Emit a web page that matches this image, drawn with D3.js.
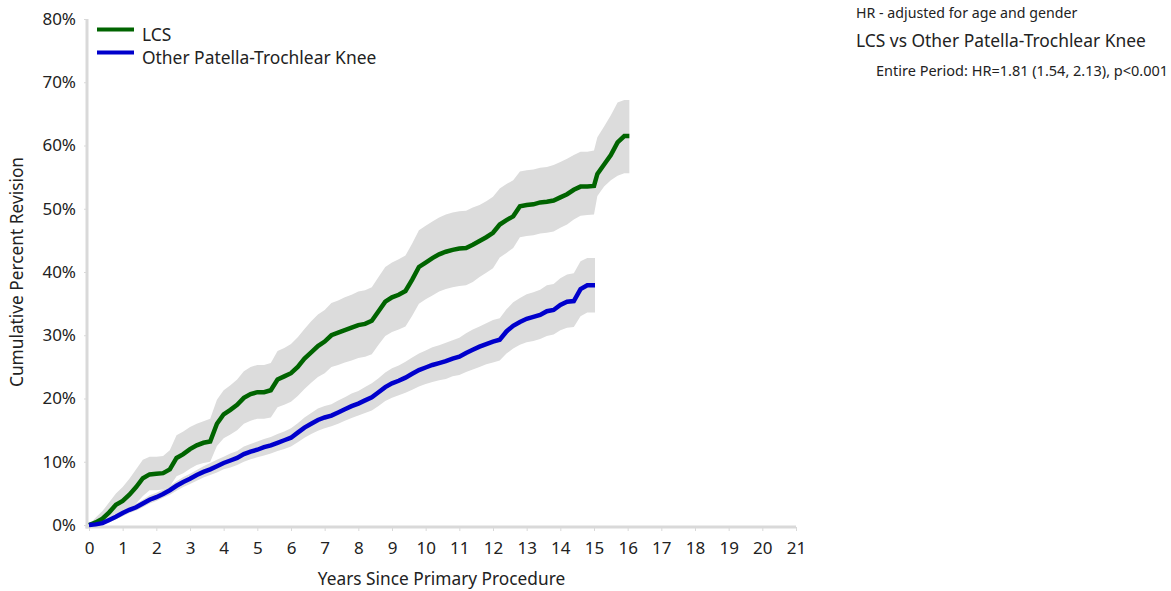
<!DOCTYPE html>
<html><head><meta charset="utf-8">
<script src="https://cdn.jsdelivr.net/npm/d3@7"></script>
<style>body{margin:0;background:#fff}svg{display:block}text{font-family:"Noto Sans",sans-serif;fill:#222}</style>
</head><body><svg id="c" width="1171" height="591"></svg>
<script>
const xTicks = d3.range(0, 22);
const yTicks = [0, 10, 20, 30, 40, 50, 60, 70, 80];
const seriesNames = ["LCS", "Other Patella-Trochlear Knee"];

// LCS: time, estimate, lower CI, upper CI (%)
const lcsTime = [0,0.2,0.4,0.6,0.8,1.0,1.2,1.4,1.6,1.8,2.0,2.2,2.4,2.6,2.8,3.0,3.2,3.4,3.6,3.8,4.0,4.2,4.4,4.6,4.8,5.0,5.2,5.4,5.6,5.8,6.0,6.2,6.4,6.6,6.8,7.0,7.2,7.4,7.6,7.8,8.0,8.2,8.4,8.6,8.8,9.0,9.2,9.4,9.6,9.8,10.0,10.2,10.4,10.6,10.8,11.0,11.2,11.4,11.6,11.8,12.0,12.2,12.4,12.6,12.8,13.0,13.2,13.4,13.6,13.8,14.0,14.2,14.4,14.6,14.8,15.0,15.1,15.3,15.5,15.7,15.9,16.05];
const lcsEst = [0,0.4,1.0,2.0,3.2,3.8,4.8,6.0,7.4,8.0,8.1,8.2,8.8,10.6,11.2,12.0,12.6,13.0,13.2,16.0,17.5,18.2,19.0,20.1,20.7,21.0,21.0,21.3,23.0,23.5,24.0,25.0,26.3,27.3,28.3,29.0,30.0,30.4,30.8,31.2,31.6,31.8,32.3,33.8,35.3,36.0,36.4,37.0,38.8,40.8,41.5,42.2,42.8,43.2,43.5,43.7,43.8,44.3,44.9,45.5,46.2,47.5,48.2,48.8,50.4,50.6,50.7,51.0,51.1,51.3,51.8,52.3,53.0,53.5,53.5,53.6,55.5,57.0,58.5,60.5,61.5,61.5];
const lcsLo = [0,0,0.2,0.6,1.3,1.8,2.5,3.4,4.6,5.5,5.5,5.6,6.1,7.7,8.2,8.9,9.5,9.8,10.0,12.5,13.7,14.3,15.0,16.0,16.5,16.8,16.8,17.0,18.6,19.0,19.5,20.4,21.5,22.5,23.4,24.0,25.0,25.3,25.7,26.0,26.4,26.6,27.0,28.5,29.9,30.5,30.9,31.4,33.1,35.0,35.7,36.3,36.9,37.3,37.6,37.8,37.9,38.4,39.2,39.9,40.6,42.3,43.0,43.8,45.5,45.7,45.8,46.1,46.2,46.4,47.0,47.5,48.3,48.9,49.0,49.1,52.0,53.5,54.5,55.2,55.6,55.6];
const lcsHi = [0,1.2,2.2,3.6,5.0,6.0,7.3,8.8,10.3,10.8,10.8,10.9,11.8,14.2,14.8,15.5,16.0,16.4,16.8,19.8,21.3,22.1,23.0,24.3,25.0,25.3,25.3,25.6,27.5,28.0,28.6,29.7,31.0,32.2,33.3,34.0,35.1,35.5,36.0,36.4,36.9,37.1,37.6,39.2,40.8,41.5,42.0,42.6,44.5,46.6,47.3,48.0,48.6,49.1,49.4,49.6,49.7,50.2,50.6,51.2,51.9,53.2,53.9,54.5,55.9,56.1,56.2,56.5,56.6,56.9,57.4,57.9,58.5,59.0,59.0,59.2,61.3,63.0,64.8,66.8,67.2,67.2];

// Other Patella-Trochlear Knee
const othTime = [0,0.2,0.4,0.6,0.8,1.0,1.2,1.4,1.6,1.8,2.0,2.2,2.4,2.6,2.8,3.0,3.2,3.4,3.6,3.8,4.0,4.2,4.4,4.6,4.8,5.0,5.2,5.4,5.6,5.8,6.0,6.2,6.4,6.6,6.8,7.0,7.2,7.4,7.6,7.8,8.0,8.2,8.4,8.6,8.8,9.0,9.2,9.4,9.6,9.8,10.0,10.2,10.4,10.6,10.8,11.0,11.2,11.4,11.6,11.8,12.0,12.2,12.4,12.6,12.8,13.0,13.2,13.4,13.6,13.8,14.0,14.2,14.4,14.6,14.8,15.03];
const othEst = [0,0.1,0.3,0.8,1.3,1.9,2.4,2.8,3.4,4.0,4.4,4.9,5.5,6.2,6.8,7.3,7.9,8.4,8.8,9.3,9.8,10.2,10.6,11.2,11.6,11.9,12.3,12.6,13.0,13.4,13.8,14.6,15.4,16.0,16.6,17.0,17.3,17.8,18.3,18.8,19.2,19.7,20.2,21.0,21.8,22.4,22.8,23.3,23.9,24.5,24.9,25.3,25.6,25.9,26.3,26.6,27.2,27.7,28.2,28.6,29.0,29.3,30.6,31.5,32.1,32.6,32.9,33.2,33.8,34.0,34.8,35.3,35.4,37.3,37.9,37.9];
const othLo = [0,0,0.1,0.4,0.9,1.4,1.9,2.3,2.8,3.4,3.8,4.3,4.8,5.4,6.0,6.5,7.0,7.5,7.9,8.3,8.8,9.1,9.5,10.0,10.4,10.7,11.0,11.3,11.7,12.0,12.4,13.1,13.8,14.4,14.9,15.3,15.6,16.0,16.5,16.9,17.3,17.7,18.1,18.8,19.6,20.1,20.5,20.9,21.4,21.9,22.3,22.6,22.9,23.1,23.5,23.7,24.2,24.6,25.0,25.4,25.7,26.0,27.1,27.9,28.5,28.9,29.1,29.4,29.9,30.1,30.8,31.2,31.3,33.0,33.6,33.6];
const othHi = [0,0.3,0.6,1.2,1.8,2.4,3.0,3.4,4.0,4.7,5.1,5.6,6.2,6.9,7.6,8.1,8.7,9.3,9.8,10.3,10.8,11.3,11.7,12.4,12.8,13.2,13.6,13.9,14.4,14.8,15.3,16.1,17.0,17.7,18.4,18.8,19.1,19.7,20.2,20.8,21.2,21.8,22.4,23.2,24.1,24.8,25.2,25.8,26.5,27.1,27.6,28.1,28.4,28.8,29.2,29.6,30.3,30.9,31.4,31.9,32.4,32.7,34.1,35.2,35.9,36.5,36.8,37.2,37.9,38.1,39.0,39.6,39.8,41.7,42.2,42.2];

const svg = d3.select("#c");
const x = d3.scaleLinear().domain([0, 21]).range([89, 796]);
const y = d3.scaleLinear().domain([0, 80]).range([525, 19]);
const axisGrey = "#d9d9d9";
const FONT = '"Noto Sans",sans-serif';

function rows(t, e, lo, hi) { return t.map((d, i) => ({t: d, e: e[i], lo: lo[i], hi: hi[i]})); }
const series = [
  {name: seriesNames[0], color: "#006400", data: rows(lcsTime, lcsEst, lcsLo, lcsHi)},
  {name: seriesNames[1], color: "#0000cc", data: rows(othTime, othEst, othLo, othHi)}
];

const area = d3.area().curve(d3.curveLinear).x(d => x(d.t)).y0(d => y(d.lo)).y1(d => y(d.hi));
const line = d3.line().curve(d3.curveLinear).x(d => x(d.t)).y(d => y(d.e));

series.forEach(s => svg.append("path").attr("d", area(s.data)).attr("fill", "#dcdcdc"));

// axes
const yAxis = svg.append("g").attr("transform", "translate(87,0)")
  .call(d3.axisLeft(y).tickValues(yTicks).tickFormat(d => d + "%").tickSize(3).tickPadding(8));
const xAxis = svg.append("g").attr("transform", "translate(0,527)")
  .call(d3.axisBottom(x).tickValues(xTicks).tickSize(4).tickPadding(11));
[yAxis, xAxis].forEach(g => {
  g.select(".domain").attr("stroke", axisGrey).attr("stroke-width", 3);
  g.selectAll(".tick line").attr("stroke", axisGrey).attr("stroke-width", 1);
  g.selectAll(".tick text").style("font-size", "17px").style("font-family", FONT).attr("fill", "#222");
});
yAxis.select(".domain").attr("d", "M0," + y(80) + "V528.5");
xAxis.select(".domain").attr("d", "M85.5,0H" + x(21));
yAxis.selectAll(".tick text").attr("dy", "0.32em");

series.forEach(s => svg.append("path").attr("d", line(s.data)).attr("fill", "none")
  .attr("stroke", s.color).attr("stroke-width", 4.5).attr("stroke-linejoin", "miter"));

// legend
series.forEach((s, i) => {
  const ly = 29.5 + i * 23;
  svg.append("line").attr("x1", 97).attr("x2", 134).attr("y1", ly).attr("y2", ly)
    .attr("stroke", s.color).attr("stroke-width", 4);
  svg.append("text").attr("x", 142).attr("y", ly + 11.5).style("font-size", "17.4px").text(s.name);
});

// axis titles
svg.append("text").attr("x", x(10.5) - 1).attr("y", 585).attr("text-anchor", "middle")
  .style("font-size", "17.3px").text("Years Since Primary Procedure");
svg.append("text").attr("transform", "translate(23," + y(40) + ") rotate(-90)").attr("text-anchor", "middle")
  .style("font-size", "17.3px").text("Cumulative Percent Revision");

// annotations
svg.append("text").attr("x", 856).attr("y", 18).style("font-size", "14.2px").text("HR - adjusted for age and gender");
svg.append("text").attr("x", 856).attr("y", 47).style("font-size", "17.4px").text("LCS vs Other Patella-Trochlear Knee");
svg.append("text").attr("x", 876).attr("y", 76).style("font-size", "14.5px").text("Entire Period: HR=1.81 (1.54, 2.13), p<0.001");
</script></body></html>
